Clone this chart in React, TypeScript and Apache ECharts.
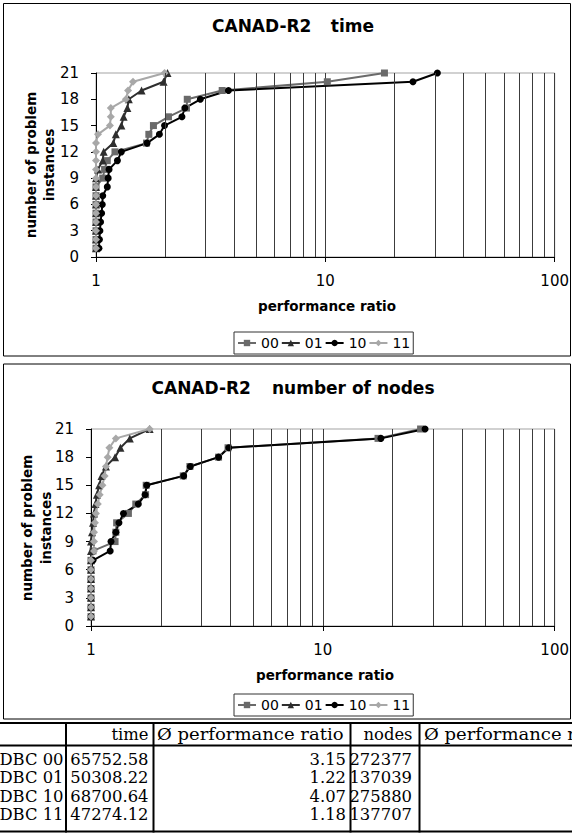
import React, { useEffect, useRef } from "react";
import * as echarts from "echarts";

// Number of solved problem instances (y) reached at each performance ratio (x).
const instances = [1, 2, 3, 4, 5, 6, 7, 8, 9, 10, 11, 12, 13, 14, 15, 16, 17, 18, 19, 20, 21];

const timeRatios00 = [1, 1, 1, 1, 1, 1, 1, 1, 1.07, 1.09, 1.12, 1.21, 1.66, 1.7, 1.78, 2.07, 2.48, 2.5, 3.55, 10.2, 18.1];
const timeRatios01 = [1, 1, 1, 1, 1, 1, 1, 1, 1, 1.02, 1.07, 1.08, 1.19, 1.22, 1.29, 1.32, 1.37, 1.39, 1.58, 1.97, 2.05];
const timeRatios10 = [1.03, 1.035, 1.04, 1.047, 1.058, 1.065, 1.07, 1.12, 1.13, 1.14, 1.24, 1.29, 1.67, 1.89, 1.99, 2.37, 2.44, 2.85, 3.78, 24.1, 30.8];
const timeRatios11 = [1, 1, 1, 1, 1, 1, 1, 1, 1, 1, 1, 1, 1, 1.02, 1.15, 1.16, 1.16, 1.35, 1.38, 1.45, 1.99];

const nodeRatios00 = [1, 1, 1, 1, 1, 1, 1, 1.02, 1.27, 1.28, 1.29, 1.45, 1.56, 1.72, 1.73, 2.5, 2.67, 3.55, 3.9, 17.3, 26.4];
const nodeRatios01 = [1, 1, 1, 1, 1, 1, 1, 1, 1, 1.01, 1.02, 1.03, 1.045, 1.06, 1.085, 1.11, 1.16, 1.27, 1.34, 1.47, 1.79];
const nodeRatios10 = [1, 1, 1, 1, 1, 1, 1.02, 1.21, 1.22, 1.28, 1.32, 1.38, 1.6, 1.71, 1.74, 2.51, 2.68, 3.55, 3.93, 17.8, 27.6];
const nodeRatios11 = [1, 1, 1, 1, 1, 1, 1, 1.03, 1.03, 1.03, 1.04, 1.05, 1.07, 1.09, 1.12, 1.145, 1.16, 1.18, 1.2, 1.28, 1.79];

const seriesNames = ["00", "01", "10", "11"];
const minorGridRatios = [2, 3, 4, 5, 6, 7, 8, 9, 20, 30, 40, 50, 60, 70, 80, 90];

const tableHeader = ["", "time", "Ø performance ratio", "nodes", "Ø performance ratio"];
const tableRows = [
  ["DBC 00", "65752.58", "3.15", "272377"],
  ["DBC 01", "50308.22", "1.22", "137039"],
  ["DBC 10", "68700.64", "4.07", "275880"],
  ["DBC 11", "47274.12", "1.18", "137707"],
];

const SANS = "'DejaVu Sans', sans-serif";
const SERIF = "'DejaVu Serif', serif";

const seriesLook: Record<string, { color: string; symbol: string; size: number }> = {
  "00": { color: "#6a6a6a", symbol: "rect", size: 7 },
  "01": { color: "#2e2e2e", symbol: "triangle", size: 8 },
  "10": { color: "#000000", symbol: "circle", size: 7 },
  "11": { color: "#a8a8a8", symbol: "diamond", size: 8 },
};

function lineSeries(name: string, ratios: number[], axisIndex: number) {
  const look = seriesLook[name];
  return {
    type: "line",
    name,
    xAxisIndex: axisIndex,
    yAxisIndex: axisIndex,
    data: ratios.map((r, i) => [r, instances[i]]),
    symbol: look.symbol,
    symbolSize: look.size,
    showSymbol: true,
    clip: false,
    lineStyle: { color: look.color, width: 2 },
    itemStyle: { color: look.color, borderWidth: 0 },
    emphasis: { disabled: true },
    z: 3,
  };
}

function minorGridSeries(axisIndex: number) {
  return {
    type: "line",
    name: "minor-grid-" + axisIndex,
    xAxisIndex: axisIndex,
    yAxisIndex: axisIndex,
    data: [],
    silent: true,
    z: 1,
    markLine: {
      silent: true,
      symbol: ["none", "none"],
      label: { show: false },
      lineStyle: { color: "#3c3c3c", width: 1, type: "solid" },
      emphasis: { disabled: true },
      data: minorGridRatios.map((v) => ({ xAxis: v })),
    },
  };
}

function xAxisFor(gridIndex: number) {
  return {
    type: "log",
    logBase: 10,
    gridIndex,
    min: 1,
    max: 100,
    axisLine: { show: true, lineStyle: { color: "#000", width: 1 } },
    axisTick: { show: true, length: 5, lineStyle: { color: "#000" } },
    axisLabel: { fontSize: 15, fontFamily: SANS, color: "#000", margin: 16 },
    splitLine: { show: true, lineStyle: { color: "#3c3c3c", width: 1 } },
  };
}

function yAxisFor(gridIndex: number) {
  return {
    type: "value",
    gridIndex,
    min: 0,
    max: 21,
    interval: 3,
    axisLine: { show: true, lineStyle: { color: "#000", width: 1 } },
    axisTick: { show: true, length: 5, lineStyle: { color: "#000" } },
    axisLabel: { fontSize: 15, fontFamily: SANS, color: "#000", margin: 17 },
    splitLine: { show: false },
  };
}

function legendAt(top: number) {
  return {
    data: seriesNames,
    left: 234,
    top,
    orient: "horizontal",
    itemWidth: 18,
    itemHeight: 8,
    itemGap: 2,
    padding: [3, 3],
    borderColor: "#333",
    borderWidth: 1,
    backgroundColor: "#fff",
    selectedMode: false,
    textStyle: { fontSize: 14, fontFamily: SANS, color: "#000", lineHeight: 16 },
  };
}

function text(x: number, y: number, content: string, font: string, align: string, extra: any = {}) {
  return {
    type: "text",
    x,
    y,
    silent: true,
    ...extra,
    style: { text: content, font, fill: "#000", align, verticalAlign: "middle", ...(extra.style || {}) },
  };
}

function hLine(x1: number, x2: number, y: number, w: number) {
  return { type: "line", silent: true, shape: { x1, y1: y, x2, y2: y }, style: { stroke: "#000", lineWidth: w } };
}
function vLine(x: number, y1: number, y2: number, w: number) {
  return { type: "line", silent: true, shape: { x1: x, y1, x2: x, y2 }, style: { stroke: "#000", lineWidth: w } };
}

function buildGraphics() {
  const bold17 = `bold 17px ${SANS}`;
  const bold135 = `bold 13.5px ${SANS}`;
  const cell = `16.4px ${SERIF}`;
  const g: any[] = [];

  // chart frames
  g.push({ type: "rect", silent: true, shape: { x: 3.5, y: 3.5, width: 567, height: 352.5 }, style: { fill: "none", stroke: "#000", lineWidth: 1 } });
  g.push({ type: "rect", silent: true, shape: { x: 3.5, y: 364, width: 567, height: 355 }, style: { fill: "none", stroke: "#000", lineWidth: 1 } });

  // titles
  g.push(text(212, 26, "CANAD-R2", bold17, "left"));
  g.push(text(374, 26, "time", bold17, "right"));
  g.push(text(151.5, 388, "CANAD-R2", bold17, "left"));
  g.push(text(434.5, 388, "number of nodes", bold17, "right"));

  // axis names
  g.push(text(327, 306, "performance ratio", bold135, "center"));
  g.push(text(325, 675, "performance ratio", bold135, "center"));
  g.push(text(40, 165, "number of problem\ninstances", bold135, "center", { rotation: Math.PI / 2, style: { lineHeight: 18 } }));
  g.push(text(36, 528, "number of problem\ninstances", bold135, "center", { rotation: Math.PI / 2, style: { lineHeight: 19 } }));

  // table rules
  g.push(hLine(0, 572, 723, 2));
  g.push(hLine(0, 572, 745.5, 2));
  g.push(hLine(0, 572, 831.5, 2));
  [66, 153.5, 350.5, 419.5].forEach((x) => g.push(vLine(x, 722, 832.5, 2)));

  // table header
  g.push(text(148.5, 734.5, tableHeader[1], cell, "right"));
  g.push(text(157, 734.5, tableHeader[2], cell, "left", { scaleX: 1.1 }));
  g.push(text(412.5, 734.5, tableHeader[3], cell, "right"));
  g.push(text(424, 734.5, tableHeader[4], cell, "left", { scaleX: 1.1 }));

  // table body
  tableRows.forEach((row, i) => {
    const y = 759 + i * 18.5;
    g.push(text(63.5, y, row[0], cell, "right"));
    g.push(text(148.5, y, row[1], cell, "right"));
    g.push(text(346, y, row[2], cell, "right"));
    g.push(text(412, y, row[3], cell, "right"));
  });
  return g;
}

export default function App() {
  const ref = useRef<HTMLDivElement>(null);

  useEffect(() => {
    if (!ref.current) return;
    const chart = echarts.init(ref.current, undefined, { renderer: "svg" });
    const option: any = {
      animation: false,
      backgroundColor: "#fff",
      textStyle: { fontFamily: SANS },
      grid: [
        { left: 96, top: 73, width: 462, height: 184, show: true, borderColor: "#a3a3a3", borderWidth: 1, backgroundColor: "#fff" },
        { left: 91, top: 429, width: 468, height: 197, show: true, borderColor: "#a3a3a3", borderWidth: 1, backgroundColor: "#fff" },
      ],
      xAxis: [xAxisFor(0), xAxisFor(1)],
      yAxis: [yAxisFor(0), yAxisFor(1)],
      legend: [legendAt(332), legendAt(694)],
      series: [
        minorGridSeries(0),
        lineSeries("00", timeRatios00, 0),
        lineSeries("01", timeRatios01, 0),
        lineSeries("10", timeRatios10, 0),
        lineSeries("11", timeRatios11, 0),
        minorGridSeries(1),
        lineSeries("00", nodeRatios00, 1),
        lineSeries("01", nodeRatios01, 1),
        lineSeries("10", nodeRatios10, 1),
        lineSeries("11", nodeRatios11, 1),
      ],
      graphic: buildGraphics(),
    };
    chart.setOption(option);
    return () => chart.dispose();
  }, []);

  return (
    <div
      ref={ref}
      style={{ position: "fixed", left: 0, top: 0, width: 572, height: 835, background: "#fff" }}
    />
  );
}
